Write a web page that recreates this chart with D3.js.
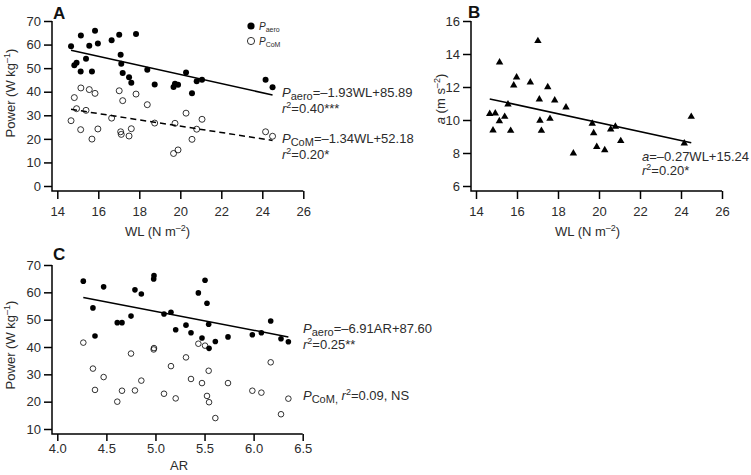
<!DOCTYPE html>
<html><head><meta charset="utf-8">
<script src="https://cdn.jsdelivr.net/npm/d3@7"></script>
<style>
body{margin:0;background:#fff}
svg{display:block}
text{font-family:"Liberation Sans",Arial,Helvetica,sans-serif;fill:#2b2b2b}
</style>
</head><body>
<svg id="chart" width="751" height="475"></svg>
<script>
// ---------- data ----------
const wl = [14.67,14.83,14.94,15.14,15.15,15.40,15.56,15.69,15.84,15.98,16.65,17.02,17.09,17.12,17.19,17.50,17.61,17.84,18.39,18.75,19.67,19.74,19.89,20.28,20.57,20.80,21.06,24.16,24.50];
const aeroA = [59.3,51.2,52.3,48.6,63.9,54.0,59.5,48.6,65.9,60.5,61.8,64.2,55.7,51.9,47.9,46.1,43.8,64.5,49.3,43.1,42.0,43.4,43.0,48.2,39.4,44.4,45.1,45.1,41.9];
const comA = [27.7,37.5,32.8,23.9,41.6,32.1,40.9,19.9,39.3,24.2,28.8,40.4,23.0,21.9,36.2,21.2,24.3,39.0,34.5,26.7,13.8,26.6,15.3,30.9,19.8,24.1,28.3,23.0,21.1];
const accB = [10.38,9.37,10.40,9.94,13.49,10.20,10.95,9.35,12.10,12.59,12.28,14.79,11.25,9.96,9.35,12.0,10.08,11.19,10.77,7.98,9.78,9.21,8.38,8.18,9.43,9.60,8.73,8.59,10.20];
const ar = [4.265,4.363,4.384,4.472,4.611,4.659,4.751,4.791,4.856,4.982,4.985,5.087,5.158,5.206,5.311,5.362,5.437,5.474,5.505,5.525,5.542,5.546,5.610,5.739,5.987,6.079,6.174,6.279,6.354];
const aeroC = [64.1,54.3,44.0,62.0,48.9,48.9,51.3,60.9,59.4,64.9,66.1,52.1,52.7,46.3,48.0,45.2,59.8,43.3,64.4,56.0,48.3,39.5,42.0,43.7,44.5,45.2,49.5,43.0,41.9];
const comC = [41.6,32.1,24.3,29.0,20.0,24.0,37.6,24.1,27.7,39.1,39.6,22.9,33.0,21.2,36.2,28.3,41.2,26.8,40.5,22.1,31.3,19.8,14.0,26.8,24.0,23.3,34.4,15.4,21.1];

const wlTicks = [14,16,18,20,22,24,26];
const powerTicksA = [0,10,20,30,40,50,60,70];
const accTicks = [6,8,10,12,14,16];
const arTicks = [4.0,4.5,5.0,5.5,6.0,6.5];
const powerTicksC = [10,20,30,40,50,60,70];

// regression fits [slope, intercept]
const fitAeroA = [-1.93, 85.89];
const fitComA = [-1.34, 52.18];
const fitAccB = [-0.27, 15.24];
const fitAeroC = [-6.91, 87.60];

// ---------- drawing ----------
const svg = d3.select("#chart");

function axes(x, y, xTicks, yTicks, ax, ay, xfmt, yfmt, xt) {
  const g = svg.append("g");
  const ya = g.append("g").attr("transform", `translate(${ax},0)`)
    .call(d3.axisLeft(y).tickValues(yTicks).tickSize(8).tickPadding(3).tickFormat(yfmt));
  ya.select(".domain").remove();
  const xa = g.append("g").attr("transform", `translate(0,${ay})`)
    .call(d3.axisBottom(x).tickValues(xTicks).tickSize(xt.size).tickPadding(xt.pad).tickFormat(xfmt));
  xa.select(".domain").remove();
  g.selectAll(".tick line").attr("stroke", "#000").attr("stroke-width", 1.5);
  g.selectAll(".tick text").attr("font-size", 13).attr("font-family", null).attr("fill", "#2b2b2b");
  g.append("path")
    .attr("d", `M${ax},${y(d3.max(yTicks))}V${ay}H${x(d3.max(xTicks))}`)
    .attr("fill", "none").attr("stroke", "#000").attr("stroke-width", 1.5);
}

function fitLine(x, y, xs, fit, dash) {
  const x0 = d3.min(xs), x1 = d3.max(xs);
  svg.append("line")
    .attr("x1", x(x0)).attr("y1", y(fit[0] * x0 + fit[1]))
    .attr("x2", x(x1)).attr("y2", y(fit[0] * x1 + fit[1]))
    .attr("stroke", "#000").attr("stroke-width", 1.5)
    .attr("stroke-dasharray", dash || null);
}

function dots(x, y, xs, ys, filled, r) {
  svg.append("g").selectAll("circle").data(xs).join("circle")
    .attr("cx", d => x(d)).attr("cy", (d, i) => y(ys[i])).attr("r", r)
    .attr("fill", filled ? "#000" : "none")
    .attr("stroke", "#000").attr("stroke-width", filled ? 0 : 0.8);
}

function label(t, x, y, size) {
  svg.append("text").attr("x", x).attr("y", y).attr("font-size", size || 17)
    .attr("font-weight", "bold").style("fill", "#111").text(t);
}

// rich text: parts = [[text, style]] style: i italic, sub, sup
function rich(x, y, parts, opts = {}) {
  const t = svg.append("text").attr("font-size", opts.size || 13);
  if (opts.rotate) t.attr("transform", `translate(${x},${y}) rotate(-90)`).attr("text-anchor", "middle");
  else t.attr("x", x).attr("y", y).attr("text-anchor", opts.anchor || "start");
  let shift = 0;
  parts.forEach(([s, st]) => {
    const ts = t.append("tspan").text(s);
    let target = 0;
    if (st && st.includes("sub")) { target = opts.subShift || 3; ts.attr("font-size", opts.subSize || 11); }
    if (st && st.includes("sup")) { target = -5; ts.attr("font-size", 9); }
    if (st && st.includes("i")) ts.attr("font-style", "italic");
    ts.attr("dy", target - shift);
    shift = target;
  });
  return t;
}

// ===== Panel A =====
const xA = d3.scaleLinear().domain([14, 26]).range([57.3, 303.3]);
const yA = d3.scaleLinear().domain([0, 70]).range([186, 21]);
axes(xA, yA, wlTicks, powerTicksA, 52, 191, d3.format("d"), d3.format("d"), {size: 8, pad: 8});
fitLine(xA, yA, wl, fitAeroA);
fitLine(xA, yA, wl, fitComA, "6,4");
dots(xA, yA, wl, comA, false, 3);
dots(xA, yA, wl, aeroA, true, 3);
label("A", 53, 19);
// legend
svg.append("circle").attr("cx", 251).attr("cy", 26).attr("r", 3.6).attr("fill", "#000");
svg.append("circle").attr("cx", 251).attr("cy", 41).attr("r", 3.6).attr("fill", "none").attr("stroke", "#000").attr("stroke-width", 0.8);
rich(259, 29.5, [["P", "i"], ["aero", "sub"]], {size: 10, subSize: 7, subShift: 2});
rich(259, 44.5, [["P", "i"], ["CoM", "sub"]], {size: 10, subSize: 7, subShift: 2});
// annotations
rich(282, 96.5, [["P", "i"], ["aero", "sub"], ["=–1.93WL+85.89"]]);
rich(282, 113, [["r", "i"], ["2", "sup"], ["=0.40***"]]);
rich(282, 143, [["P", "i"], ["CoM", "sub"], ["=–1.34WL+52.18"]]);
rich(282, 159, [["r", "i"], ["2", "sup"], ["=0.20*"]]);
rich(125, 236, [["WL (N m"], ["–2", "sup"], [")"]]);
rich(15, 93, [["Power (W kg"], ["–1", "sup"], [")"]], {rotate: true});

// ===== Panel B =====
const xB = d3.scaleLinear().domain([14, 26]).range([476, 722]);
const yB = d3.scaleLinear().domain([6, 16]).range([186, 21]);
axes(xB, yB, wlTicks, accTicks, 471, 191, d3.format("d"), d3.format("d"), {size: 8, pad: 8});
fitLine(xB, yB, wl, fitAccB);
svg.append("g").selectAll("path").data(wl).join("path")
  .attr("transform", (d, i) => `translate(${xB(d)},${yB(accB[i])})`)
  .attr("d", d3.symbol(d3.symbolTriangle, 24)).attr("fill", "#000");
label("B", 468, 18);
rich(642, 160.5, [["a", "i"], ["=–0.27WL+15.24"]]);
rich(642, 175, [["r", "i"], ["2", "sup"], ["=0.20*"]]);
rich(555, 236, [["WL (N m"], ["–2", "sup"], [")"]]);
rich(445, 99, [["a", "i"], [" (m s"], ["–2", "sup"], [")"]], {rotate: true});

// ===== Panel C =====
const xC = d3.scaleLinear().domain([4, 6.5]).range([57.3, 302.7]);
const yC = d3.scaleLinear().domain([10, 70]).range([429, 265]);
axes(xC, yC, arTicks, powerTicksC, 52, 434, d3.format(".1f"), d3.format("d"), {size: 7, pad: 3});
fitLine(xC, yC, ar, fitAeroC);
dots(xC, yC, ar, comC, false, 2.8);
dots(xC, yC, ar, aeroC, true, 2.8);
label("C", 53, 260);
rich(303, 332.5, [["P", "i"], ["aero", "sub"], ["=–6.91AR+87.60"]]);
rich(303, 349, [["r", "i"], ["2", "sup"], ["=0.25**"]]);
rich(303, 400, [["P", "i"], ["CoM,", "sub"], [" "], ["r", "i"], ["2", "sup"], ["=0.09, NS"]]);
rich(179, 470, [["AR"]], {anchor: "middle"});
rich(15, 345, [["Power (W kg"], ["–1", "sup"], [")"]], {rotate: true});
</script>
</body></html>
